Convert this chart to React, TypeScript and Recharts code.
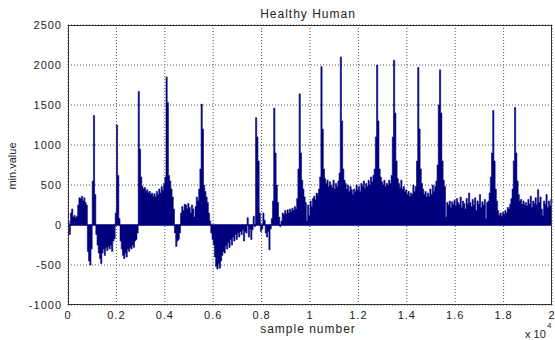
import { AreaChart, Area, XAxis, YAxis, CartesianGrid, ReferenceLine } from "recharts"

// one value per 50-sample bin, split in chunks of 2000 samples (one x grid cell each)
const STEP = 50

const min0000 = [
    50, -120, 150, 200, 100, 120, 90, 110, 250, 340,
    330, 360, 300, 340, 280, 250, -330, -450, -500, -300,
    550, 1370, 380, -120, -250, -350, -420, -480, -350, -300,
    -380, -280, -320, -270, -300, -250, -330, -200, -170, 150,
]
const min2000 = [
    1250, 620, 80, -200, -300, -380, -420, -350, -400, -300,
    -330, -280, -300, -250, -280, -200, -180, -100, 1670, 950,
    600, 480, 450, 470, 420, 440, 400, 420, 380, 400,
    360, 390, 350, 420, 380, 450, 400, 480, 430, 520,
]
const min4000 = [
    600, 1850, 1530, 620, 550, 450, 350, 200, -100, -270,
    -200, -180, -100, 150, 230, 180, 260, 250, 200, 270,
    220, 150, 250, 200, 100, 230, 350, 300, 450, 700,
    1510, 1200, 500, 420, 350, 280, 150, 50, -100, -180,
]
const min6000 = [
    -250, -400, -520, -550, -480, -540, -450, -380, -330, -350,
    -260, -300, -220, -280, -180, -250, -150, -200, -120, -180,
    -100, -150, -80, -120, -60, -200, -80, -100, 90, -150,
    -50, -180, -60, 110, -20, 1340, 1100, 800, 150, -80,
]
const min8000 = [
    -50, 150, 60, -100, -150, -80, -310, -50, 80, 300,
    1460, 900, 500, 280, 100, -20, 50, 150, 130, 180,
    140, 190, 150, 200, 170, 210, 180, 230, 200, 330,
    700, 1640, 900, 560, 450, 350, 280, 50, 250, 120,
]
const min10000 = [
    300, 230, 330, 360, 320, 400, 380, 450, 600, 1980,
    1200, 700, 580, 520, 560, 480, 540, 500, 470, 560,
    450, 520, 480, 550, 650, 2100, 1300, 700, 560, 520,
    450, 500, 420, 480, 440, 380, 450, 420, 500, 440,
]
const min12000 = [
    480, 420, 520, 480, 550, 460, 520, 480, 560, 500,
    600, 540, 620, 700, 1100, 2000, 1300, 700, 600, 540,
    500, 560, 480, 520, 500, 560, 520, 620, 1100, 2060,
    1400, 800, 580, 520, 470, 560, 450, 480, 420, 440,
]
const min14000 = [
    380, 420, 360, 400, 380, 500, 420, 480, 800, 1970,
    1200, 700, 520, 450, 380, 420, 350, 400, 360, 450,
    380, 500, 420, 480, 550, 750, 1500, 1940, 1400, 800,
    560, 480, 100, 280, 250, 300, 220, 290, 260, 310,
]
const min16000 = [
    240, 330, 280, 250, 350, 220, 300, 270, 200, 330,
    260, 400, 280, 230, 320, 250, 340, 180, 300, 260,
    380, 220, 290, 250, 320, 80, 280, 300, 400, 600,
    900, 1430, 800, 450, 300, 180, 120, 150, 110, 160,
]
const min18000 = [
    130, 180, 150, 220, 200, 260, 330, 450, 800, 1470,
    900, 550, 380, 300, 320, 260, 300, 250, 280, 240,
    320, 260, 360, 220, 300, 270, 340, 250, 440, 280,
    350, 200, 120, 300, 260, 380, 220, 300, 240, 320,
    280,
]

const chunks = [min0000, min2000, min4000, min6000, min8000, min10000, min12000, min14000, min16000, min18000]

const xTicks = [0, 2000, 4000, 6000, 8000, 10000, 12000, 14000, 16000, 18000, 20000]
const xTickLabels = ["0", "0.2", "0.4", "0.6", "0.8", "1", "1.2", "1.4", "1.6", "1.8", "2"]
const yTicks = [-1000, -500, 0, 500, 1000, 1500, 2000, 2500]

const data = chunks.flatMap((chunk, k) =>
    chunk.map((v, i) => ({ sample: k * 2000 + i * STEP, value: v }))
)

const navy = "#00007f"
const textColor = "#222"
const font = "'Liberation Sans', Arial, sans-serif"

export default function App() {
    return (
        <div style={{ position: "absolute", left: 0, top: 0, width: 555, height: 340, background: "#fff", fontFamily: font, color: textColor }}>
            <AreaChart width={555} height={340} data={data} margin={{ top: 25, right: 3, bottom: 15, left: 8 }}>
                <CartesianGrid stroke="#555" strokeDasharray="1 2" strokeWidth={1} />
                <XAxis
                    dataKey="sample"
                    type="number"
                    domain={[0, 20000]}
                    ticks={xTicks}
                    interval={0}
                    height={20}
                    tickFormatter={(v) => xTickLabels[xTicks.indexOf(v)]}
                    axisLine={false}
                    tickLine={false}
                    tickMargin={0}
                    tick={{ fontSize: 11, fill: textColor, fontFamily: font, letterSpacing: 1 }}
                />
                <YAxis
                    type="number"
                    domain={[-1000, 2500]}
                    ticks={yTicks}
                    interval={0}
                    width={60}
                    axisLine={false}
                    tickLine={false}
                    tickMargin={0}
                    tick={{ fontSize: 11, fill: textColor, fontFamily: font, letterSpacing: 1 }}
                />
                <Area
                    type="stepAfter"
                    dataKey="value"
                    baseValue={0}
                    stroke={navy}
                    strokeWidth={0.6}
                    fill={navy}
                    fillOpacity={1}
                    isAnimationActive={false}
                />
                <ReferenceLine y={0} stroke={navy} strokeWidth={1.5} />
            </AreaChart>
            <div style={{ position: "absolute", left: 68, top: 25, width: 484, height: 280, border: "1px solid #333", boxSizing: "border-box", pointerEvents: "none" }} />
            <div style={{ position: "absolute", left: 208, top: 7, width: 200, textAlign: "center", fontSize: 12, letterSpacing: 1 }}>Healthy Human</div>
            <div style={{ position: "absolute", left: 208, top: 322, width: 200, textAlign: "center", fontSize: 12, letterSpacing: 1 }}>sample number</div>
            <div style={{ position: "absolute", left: 525, top: 328, fontSize: 11, lineHeight: "12px" }}>x 10</div>
            <div style={{ position: "absolute", left: 547, top: 322, fontSize: 8, lineHeight: "8px" }}>4</div>
            <div style={{ position: "absolute", left: 12, top: 166, transform: "translate(-50%, -50%) rotate(-90deg)", fontSize: 11, whiteSpace: "nowrap" }}>min.value</div>
        </div>
    )
}
